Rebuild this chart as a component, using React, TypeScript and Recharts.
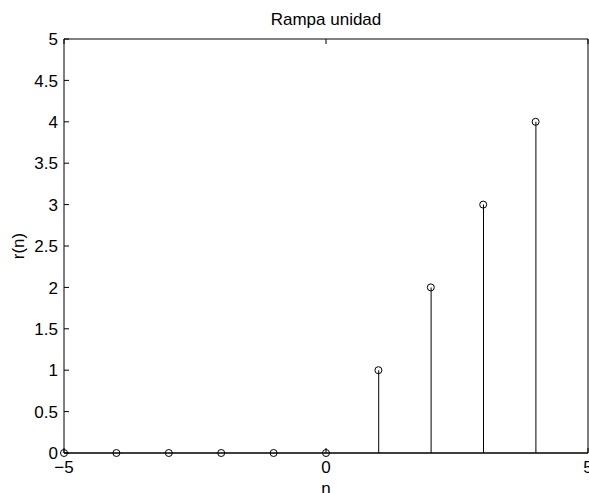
import React from "react";
import {
  ComposedChart,
  Bar,
  Scatter,
  XAxis,
  YAxis,
  ReferenceLine,
  Label,
} from "recharts";

// Unit ramp r(n) sampled at integer n
const nValues = [-5, -4, -3, -2, -1, 0, 1, 2, 3, 4];
const rValues = [0, 0, 0, 0, 0, 0, 1, 2, 3, 4];

const xTicks = [-5, 0, 5];
const yTicks = [0, 0.5, 1, 1.5, 2, 2.5, 3, 3.5, 4, 4.5, 5];
const yTickLabels = ["0", "0.5", "1", "1.5", "2", "2.5", "3", "3.5", "4", "4.5", "5"];

const data = nValues.map((n, i) => ({ n, r: rValues[i] }));

const FONT = "'Liberation Sans', Arial, Helvetica, sans-serif";
const FS = 17;
const TICK_LEN = 5;
const X_MARGIN = 8;
const Y_MARGIN = 6;

const BottomTick = (props: any) => {
  const { x, y, payload } = props;
  const axisY = y - X_MARGIN;
  return (
    <g>
      <line x1={x} y1={axisY} x2={x} y2={axisY - TICK_LEN} stroke="#000" />
      <text x={x} y={y} dy="0.72em" textAnchor="middle" fontSize={FS} fontFamily={FONT} fill="#000">
        {payload.value < 0 ? "\u2212" + Math.abs(payload.value) : String(payload.value)}
      </text>
    </g>
  );
};

const TopTick = (props: any) => {
  const { x, y } = props;
  return <line x1={x} y1={y} x2={x} y2={y + TICK_LEN} stroke="#000" />;
};

const LeftTick = (props: any) => {
  const { x, y, index } = props;
  const axisX = x + Y_MARGIN;
  return (
    <g>
      <line x1={axisX} y1={y} x2={axisX + TICK_LEN} y2={y} stroke="#000" />
      <text x={x} y={y} dy="0.36em" textAnchor="end" fontSize={FS} fontFamily={FONT} fill="#000">
        {yTickLabels[index]}
      </text>
    </g>
  );
};

const RightTick = (props: any) => {
  const { x, y } = props;
  return <line x1={x} y1={y} x2={x - TICK_LEN} y2={y} stroke="#000" />;
};

const StemHead = (props: any) => {
  const { cx, cy } = props;
  return <circle cx={cx} cy={cy} r={3.5} fill="none" stroke="#000" strokeWidth={1} />;
};

const XTitle = (props: any) => {
  const { viewBox } = props;
  const cx = viewBox.x + viewBox.width / 2;
  return (
    <text x={cx} y={viewBox.y + 35} dominantBaseline="central" textAnchor="middle" fontSize={FS} fontFamily={FONT} fill="#000">
      n
    </text>
  );
};

const YTitle = (props: any) => {
  const { viewBox } = props;
  const cy = viewBox.y + viewBox.height / 2;
  const cx = 18;
  return (
    <text
      x={cx}
      y={cy}
      transform={`rotate(-90, ${cx}, ${cy})`}
      dominantBaseline="central"
      textAnchor="middle"
      fontSize={FS}
      fontFamily={FONT}
      fill="#000"
    >
      r(n)
    </text>
  );
};

export default function App() {
  return (
    <div
      style={{
        position: "fixed",
        left: 0,
        top: 0,
        width: 589,
        height: 493,
        overflow: "hidden",
        background: "#fff",
      }}
    >
      <div
        style={{
          position: "absolute",
          left: 0,
          width: 652,
          top: 10,
          textAlign: "center",
          fontFamily: FONT,
          fontSize: FS,
          lineHeight: "20px",
          color: "#000",
        }}
      >
        Rampa unidad
      </div>
      <ComposedChart
        width={598}
        height={493}
        data={data}
        margin={{ top: 0, right: 0, bottom: 0, left: 0 }}
        barSize={1}
      >
        <XAxis
          dataKey="n"
          type="number"
          domain={[-5, 5]}
          ticks={xTicks}
          xAxisId="bottom"
          orientation="bottom"
          height={40}
          tickSize={0}
          tickMargin={X_MARGIN}
          tickLine={false}
          axisLine={{ stroke: "#000" }}
          tick={<BottomTick />}
          interval={0}
        >
          <Label content={<XTitle />} />
        </XAxis>
        <XAxis
          dataKey="n"
          type="number"
          domain={[-5, 5]}
          ticks={xTicks}
          xAxisId="top"
          orientation="top"
          height={39}
          tickSize={0}
          tickMargin={0}
          tickLine={false}
          axisLine={{ stroke: "#000" }}
          tick={<TopTick />}
          interval={0}
        />
        <YAxis
          type="number"
          domain={[0, 5]}
          ticks={yTicks}
          yAxisId="left"
          orientation="left"
          width={64}
          tickSize={0}
          tickMargin={Y_MARGIN}
          tickLine={false}
          axisLine={{ stroke: "#000" }}
          tick={<LeftTick />}
          interval={0}
        >
          <Label content={<YTitle />} />
        </YAxis>
        <YAxis
          type="number"
          domain={[0, 5]}
          ticks={yTicks}
          yAxisId="right"
          orientation="right"
          width={10}
          tickSize={0}
          tickMargin={0}
          tickLine={false}
          axisLine={{ stroke: "#000" }}
          tick={<RightTick />}
          interval={0}
        />
        <ReferenceLine y={0} xAxisId="bottom" yAxisId="left" stroke="#000" />
        <Bar dataKey="r" xAxisId="bottom" yAxisId="left" fill="#000" isAnimationActive={false} />
        <Scatter dataKey="r" xAxisId="bottom" yAxisId="left" shape={<StemHead />} isAnimationActive={false} />
      </ComposedChart>
    </div>
  );
}
